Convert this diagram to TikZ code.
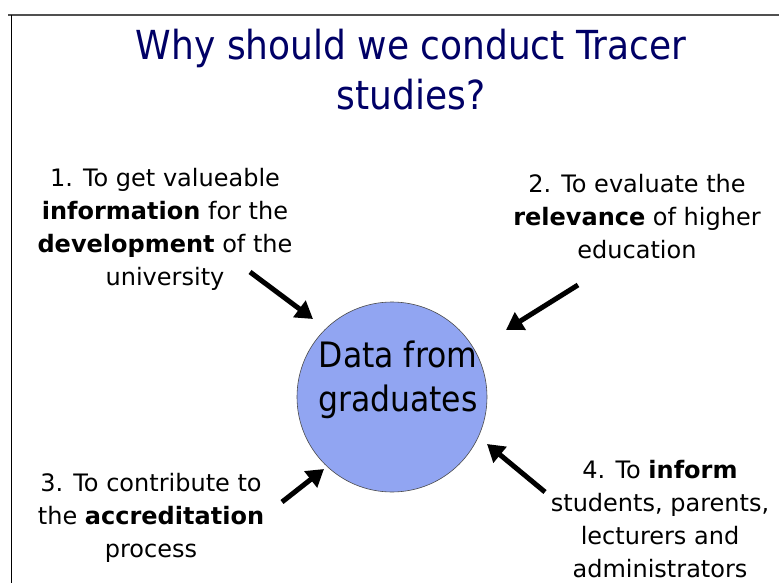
\documentclass[tikz,border=0pt]{standalone}
\usepackage{fontspec}
\setmainfont{DejaVu Sans}
\newfontfamily\titlefont{DejaVu Sans Condensed}
\usetikzlibrary{arrows.meta}
\definecolor{titleblue}{RGB}{0,0,102}
\definecolor{circfill}{RGB}{145,165,242}
\definecolor{framegray}{RGB}{80,80,80}
\tikzset{
  bodytext/.style={align=center, font=\fontsize{24}{33}\selectfont, inner sep=0pt},
  bigarrow/.style={line width=5pt, -{Triangle[width=20pt,length=17pt]}},
}
\begin{document}
\begin{tikzpicture}[x=1pt,y=-1pt]
\useasboundingbox (0,0) rectangle (779,583);
\fill[white] (0,0) rectangle (779,583);
\draw[framegray, line width=2.5pt] (8,15) -- (779,15);
\draw[black, line width=1pt] (11.5,15) -- (11.5,583);
\node[titleblue, align=center, font=\titlefont\fontsize{40}{50}\selectfont, inner sep=0pt] (title) at (411,70) {Why should we conduct Tracer\\studies?};
\node[circle, fill=circfill, draw=black!70, line width=0.6pt, minimum size=190pt, inner sep=0pt] (c) at (392,397) {};
\node[align=center, font=\titlefont\fontsize{35}{44}\selectfont, inner sep=0pt] (ct) at (398,380) {Data from\\graduates};
\node[bodytext] (t1) at (165,229) {1. To get valueable\\\textbf{information} for the\\\textbf{development} of the\\university};
\node[bodytext] (t2) at (637,217) {2. To evaluate the\\\textbf{relevance} of higher\\education};
\node[bodytext] (t3) at (151,518) {3. To contribute to\\the \textbf{accreditation}\\process};
\node[bodytext] (t4) at (660,519) {4. To \textbf{inform}\\students, parents,\\lecturers and\\administrators};
\coordinate (a1s) at (250,272); \coordinate (a1e) at (313,319);
\coordinate (a2s) at (578,285); \coordinate (a2e) at (506,330);
\coordinate (a3s) at (282,502); \coordinate (a3e) at (324,469);
\coordinate (a4s) at (545,492); \coordinate (a4e) at (487,444);
\draw[bigarrow] (a1s) -- (a1e);
\draw[bigarrow] (a2s) -- (a2e);
\draw[bigarrow] (a3s) -- (a3e);
\draw[bigarrow] (a4s) -- (a4e);
\end{tikzpicture}
\end{document}
